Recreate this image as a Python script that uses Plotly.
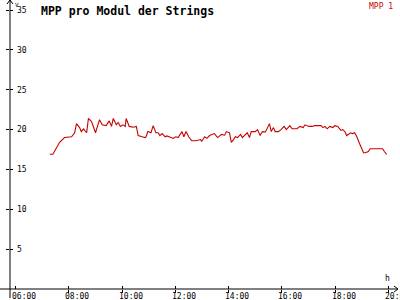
import plotly.graph_objects as go

times = ["07:17","07:24","07:39","07:50","08:06","08:13","08:17","08:24","08:28","08:33",
         "08:40","08:44","08:51","09:00","09:09","09:15","09:24","09:31","09:36","09:40",
         "09:47","09:51","09:56","10:02","10:07","10:09","10:16","10:25","10:32","10:36",
         "10:45","10:52","10:54","10:58","11:05","11:10","11:16","11:21","11:25","11:30",
         "11:37","11:41","11:50","11:55","12:01","12:06","12:15","12:19","12:24","12:30",
         "12:37","12:46","12:57","12:59","13:06","13:11","13:17","13:24","13:28","13:35",
         "13:44","13:51","13:55","14:02","14:06","14:11","14:15","14:20","14:27","14:31",
         "14:38","14:42","14:47","14:51","15:00","15:05","15:11","15:16","15:23","15:27",
         "15:32","15:36","15:41","15:45","15:52","15:58","16:05","16:10","16:18","16:23",
         "16:30","16:34","16:41","16:48","16:52","17:01","17:08","17:14","17:28","17:33",
         "17:37","17:42","17:48","17:55","17:59","18:06","18:13","18:17","18:22","18:26",
         "18:35","18:39","18:44","18:49","18:55","19:00","19:04","19:08","19:15","19:19",
         "19:47","19:51","19:56"]
mpp1 = [16.9,16.9,18.4,19.0,19.1,19.6,20.75,20.25,19.75,20.1,
        19.6,21.4,21.0,19.6,21.25,20.6,20.5,21.1,20.4,21.4,
        20.6,20.9,20.4,20.6,20.4,21.4,20.4,20.3,20.4,19.25,
        19.1,19.0,19.1,19.75,19.6,20.5,19.6,19.6,19.25,19.5,
        19.1,19.2,19.0,18.9,19.1,19.0,19.75,19.1,19.75,19.1,
        18.6,18.6,18.75,18.5,19.1,18.9,19.25,19.4,19.5,19.0,
        19.4,19.3,19.75,19.6,18.4,18.75,19.1,19.0,19.4,19.0,
        19.4,19.6,19.0,19.75,19.75,20.0,19.25,19.75,19.7,20.1,
        20.75,19.75,20.25,19.75,19.75,20.0,20.4,20.0,20.5,20.1,
        20.1,20.1,20.4,20.25,20.6,20.4,20.4,20.5,20.5,20.25,
        20.4,20.1,20.4,20.25,20.5,20.4,19.9,20.0,19.75,19.25,
        19.6,19.5,19.6,19.1,18.25,17.5,17.1,17.1,17.25,17.6,
        17.6,17.25,16.9]
x_ticks = ["06:00", "08:00", "10:00", "12:00", "14:00", "16:00", "18:00", "20:00"]
y_ticks = [5, 10, 15, 20, 25, 30, 35]
title = "MPP pro Modul der Strings"
series_name = "MPP 1"
day = "2024-06-01 "

RED = "#c80000"
FONT = "DejaVu Sans Mono"
X_RANGE = [day + "05:47:14", day + "20:21:43"]
Y_RANGE = [0, 36.26]

fig = go.Figure()
fig.add_trace(go.Scatter(x=[day + t for t in times], y=mpp1, mode="lines",
                         line=dict(color=RED, width=1.1), name=series_name,
                         showlegend=False))
# empty trace so that the overlay axes (inner half of the crossing ticks) are drawn
fig.add_trace(go.Scatter(x=[], y=[], xaxis="x2", yaxis="y2", showlegend=False,
                         hoverinfo="skip"))

W, H = 400, 300
L, R, T, B = 10, 2, 0, 11
pw, ph = W - L - R, H - T - B

def px(xp):
    return (xp - L) / pw

def py(yp):
    return (H - B - yp) / ph

annotations = [
    dict(text=f"<b>{title}</b>", xref="paper", yref="paper", x=px(39), y=py(2),
         xanchor="left", yanchor="top", showarrow=False,
         font=dict(family=FONT, size=11.5, color="black")),
    dict(text=series_name, xref="paper", yref="paper", x=px(395), y=py(0),
         xanchor="right", yanchor="top", showarrow=False,
         font=dict(family=FONT, size=8, color=RED)),
    dict(text="V", xref="paper", yref="paper", x=px(13), y=py(-1),
         xanchor="left", yanchor="top", showarrow=False,
         font=dict(family=FONT, size=6, color="black")),
    dict(text="h", xref="paper", yref="paper", x=px(387), y=py(285),
         xanchor="center", yanchor="bottom", showarrow=False,
         font=dict(family=FONT, size=8, color="black")),
]
for t in x_ticks:
    annotations.append(dict(text=t, xref="x", yref="paper", x=day + t, y=py(291),
                            xanchor="center", yanchor="top", xshift=8.5,
                            showarrow=False, borderpad=0,
                            font=dict(family=FONT, size=8, color="black")))

common_x = dict(range=X_RANGE, type="date", tickvals=[day + t for t in x_ticks],
                showticklabels=False, showgrid=False, zeroline=False,
                showline=False, automargin=False, ticklen=3, tickcolor="black")
common_y = dict(range=Y_RANGE, tickvals=y_ticks, showgrid=False, automargin=False,
                zeroline=False, showline=False, ticklen=3, tickcolor="black")

fig.update_layout(
    width=W, height=H, margin=dict(l=L, r=R, t=T, b=B, autoexpand=False),
    paper_bgcolor="white", plot_bgcolor="white",
    font=dict(family=FONT, size=8, color="black"),
    xaxis=dict(**common_x, ticks="outside"),
    xaxis2=dict(**common_x, ticks="inside", overlaying="x", side="bottom",
                anchor="y2"),
    yaxis=dict(**common_y, ticks="outside", ticklabelposition="inside",
               ticklabelstandoff=4,
               tickfont=dict(family=FONT, size=8, color="black")),
    yaxis2=dict(**common_y, ticks="inside", showticklabels=False,
                overlaying="y", side="left", anchor="x2"),
    shapes=[
        dict(type="line", xref="paper", yref="paper", x0=px(10), x1=px(10),
             y0=py(298), y1=py(0), line=dict(color="black", width=1)),
        dict(type="line", xref="paper", yref="paper", x0=px(0), x1=px(398),
             y0=py(289), y1=py(289), line=dict(color="black", width=1)),
        dict(type="path", xref="paper", yref="paper",
             path=f"M {px(7)} {py(4)} L {px(10)} {py(0)} L {px(13)} {py(4)}",
             line=dict(color="black", width=1)),
        dict(type="path", xref="paper", yref="paper",
             path=f"M {px(394)} {py(286)} L {px(398)} {py(289)} L {px(394)} {py(292)}",
             line=dict(color="black", width=1)),
    ],
    annotations=annotations,
)

fig.write_html("out.html")
